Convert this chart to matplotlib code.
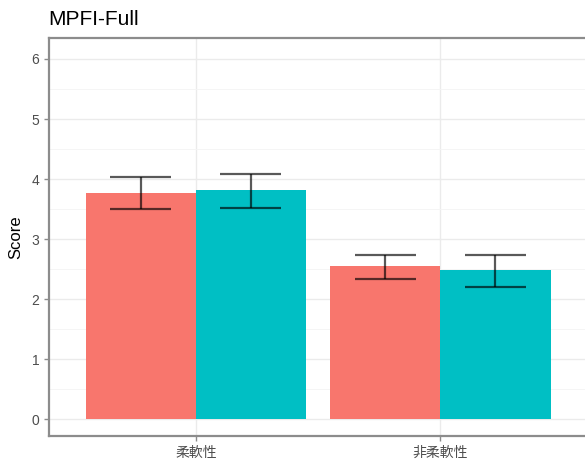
import matplotlib
matplotlib.use("Agg")
import matplotlib.pyplot as plt
import numpy as np

categories = ["柔軟性", "非柔軟性"]
red_vals = [3.77, 2.56]
red_lo = [3.50, 2.33]
red_hi = [4.04, 2.74]
teal_vals = [3.82, 2.48]
teal_lo = [3.51, 2.20]
teal_hi = [4.09, 2.74]

plt.rcParams['font.family'] = ['Liberation Sans', 'Noto Sans CJK JP', 'DejaVu Sans']

fig = plt.figure(figsize=(5.85, 4.61), dpi=100)
# panel runs past the right edge, as in the original crop
ax = fig.add_axes([0.0838, 0.0542, 0.93, 0.8634])

x = np.arange(1, len(categories) + 1)
w = 0.45
ax.bar(x - w / 2, red_vals, width=w, color="#F8766D", zorder=2)
ax.bar(x + w / 2, teal_vals, width=w, color="#00BFC4", zorder=2)

def errbars(xs, lo, hi):
  for xi, l, h in zip(xs, lo, hi):
    ax.vlines(xi, l, h, color="black", alpha=0.65, linewidth=1.6, zorder=3)
    ax.hlines([l, h], xi - 0.125, xi + 0.125, color="black", alpha=0.65, linewidth=1.6, zorder=3)

errbars(x - w / 2, red_lo, red_hi)
errbars(x + w / 2, teal_lo, teal_hi)

ax.set_xlim(0.4, 2.624)
ax.set_ylim(-0.28, 6.35)
ax.set_yticks(range(0, 7))
ax.set_yticks(np.arange(0.5, 6.5, 1), minor=True)
ax.set_xticks(x)
ax.set_xticklabels(categories, family=['Noto Sans CJK JP', 'DejaVu Sans'])

ax.grid(True, which="major", color="#EBEBEB", linewidth=1.0, zorder=0)
ax.grid(True, which="minor", axis="y", color="#F4F4F4", linewidth=0.6, zorder=0)
ax.set_axisbelow(True)

for s in ax.spines.values():
  s.set_color("#8C8C8C")
  s.set_linewidth(1.6)

ax.tick_params(axis="both", which="major", colors="#8C8C8C", labelcolor="#4D4D4D",
               labelsize=10, length=3.5, width=1)
ax.tick_params(axis="y", which="minor", length=0)

ax.set_ylabel("Score", fontsize=12, color="black", labelpad=6)
fig.text(0.082, 0.945, "MPFI-Full", fontsize=15, color="black", ha="left", va="baseline")

fig.savefig("out.png", dpi=100)
